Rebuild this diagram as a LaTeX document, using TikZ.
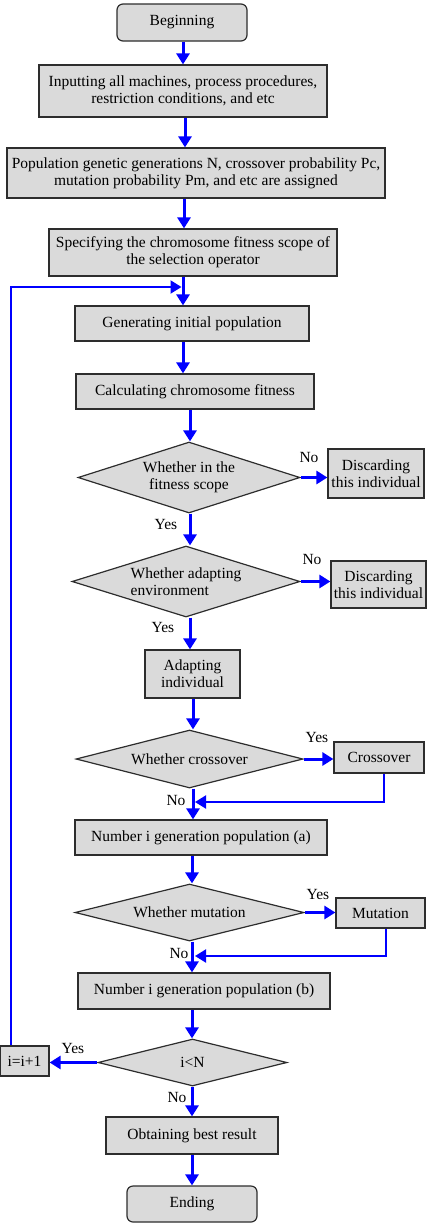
\documentclass[tikz,border=0pt]{standalone}
\usepackage{fontspec}
\setmainfont{Liberation Serif}
\usetikzlibrary{arrows.meta,shapes.geometric}
\definecolor{boxgray}{RGB}{218,218,218}
\definecolor{edgegray}{RGB}{45,45,45}
\definecolor{flowblue}{RGB}{0,0,255}
\newcommand{\flowfont}{\fontsize{15.5pt}{17pt}\selectfont}
\tikzset{
  base/.style={draw=edgegray, line width=1.2pt, fill=boxgray, inner sep=0pt, align=center, font=\flowfont},
  proc/.style={base, rectangle},
  term/.style={base, rectangle, rounded corners=6pt},
  decision/.style={base, diamond},
  arr/.style={draw=flowblue, line width=3pt, -{Triangle[length=11pt,width=13pt]}},
  thinarr/.style={draw=flowblue, line width=2pt, -{Triangle[length=11pt,width=13pt]}},
  lbl/.style={font=\flowfont, inner sep=0pt},
}
\begin{document}
\begin{tikzpicture}[x=1pt,y=-1pt]
\useasboundingbox (0,0) rectangle (431,1232);
% nodes
\node[term, minimum width=130pt, minimum height=37pt] (begin) at (182,22.5) {Beginning};
\node[proc, minimum width=288pt, minimum height=52pt] (input) at (183,91) {Inputting all machines, process procedures,\\restriction conditions, and etc};
\node[proc, minimum width=378pt, minimum height=50pt] (pop) at (196,173) {Population genetic generations N, crossover probability Pc,\\mutation probability Pm, and etc are assigned};
\node[proc, minimum width=288pt, minimum height=47pt] (spec) at (193,252.5) {Specifying the chromosome fitness scope of\\the selection operator};
\node[proc, minimum width=234pt, minimum height=35pt] (gen) at (192,323.5) {Generating initial population};
\node[proc, minimum width=238pt, minimum height=35pt] (calc) at (195,391.5) {Calculating chromosome fitness};
\node[decision, aspect=3.13, minimum width=222pt, minimum height=71pt] (d1) at (189,477.5) {Whether in the\\fitness scope};
\node[proc, minimum width=96pt, minimum height=49pt] (disc1) at (376,473.5) {Discarding\\this individual};
\node[decision, aspect=3.2, minimum width=228pt, minimum height=71pt, align=left] (d2) at (186,581.5) {Whether adapting\\environment};
\node[proc, minimum width=95pt, minimum height=47pt] (disc2) at (378.5,584.5) {Discarding\\this individual};
\node[proc, minimum width=95pt, minimum height=48pt] (adapt) at (192.5,674) {Adapting\\individual};
\node[decision, aspect=3.9, minimum width=227pt, minimum height=58pt] (d3) at (189.5,759) {Whether crossover};
\node[proc, minimum width=90pt, minimum height=31pt] (cross) at (379,757.5) {Crossover};
\node[proc, minimum width=252pt, minimum height=35pt] (numa) at (201,837.5) {Number i generation population (a)};
\node[decision, aspect=4, minimum width=229pt, minimum height=57pt] (d4) at (189.5,912.5) {Whether mutation};
\node[proc, minimum width=89pt, minimum height=30pt] (mut) at (380.5,913) {Mutation};
\node[proc, minimum width=252pt, minimum height=36pt] (numb) at (204,991) {Number i generation population (b)};
\node[decision, aspect=4, minimum width=189pt, minimum height=47pt] (d5) at (192.5,1062.5) {i<N};
\node[proc, minimum width=49pt, minimum height=30pt] (inc) at (24.5,1061) {i=i+1};
\node[proc, minimum width=172pt, minimum height=37pt] (obt) at (192,1135.5) {Obtaining best result};
\node[term, minimum width=130pt, minimum height=36pt] (end) at (192,1204) {Ending};
% axis coordinates
\coordinate (axA) at (183,0);
\coordinate (axA2) at (185,0);
\coordinate (axA3) at (184,0);
\coordinate (axB) at (190,0);
\coordinate (axC) at (193,0);
\coordinate (axD) at (192,0);
\coordinate (loopx) at (11,0);
\coordinate (jloop) at (181.5,287);
\coordinate (jcross) at (195,802);
\coordinate (jmut) at (195,956);
% main flow
\draw[arr] (begin.south -| axA) -- (input.north -| axA);
\draw[arr] (input.south -| axA2) -- (pop.north -| axA2);
\draw[arr] (pop.south -| axA3) -- (spec.north -| axA3);
\draw[arr] (spec.south -| axA) -- (gen.north -| axA);
\draw[arr] (gen.south -| axA) -- (calc.north -| axA);
\draw[arr] (calc.south -| axB) -- (d1.north -| axB);
\draw[arr] (d1.south -| axB) -- (d2.north -| axB);
\draw[arr] (d2.south -| axB) -- (adapt.north -| axB);
\draw[arr] (adapt.south -| axC) -- (d3.north -| axC);
\draw[arr] (d3.south -| axC) -- (numa.north -| axC);
\draw[arr] (numa.south -| axD) -- (d4.north -| axD);
\draw[arr] (d4.south -| axD) -- (numb.north -| axD);
\draw[arr] (numb.south -| axD) -- (d5.north -| axD);
\draw[arr] (d5.south -| axD) -- (obt.north -| axD);
\draw[arr] (obt.south -| axD) -- (end.north -| axD);
% side branches
\draw[arr] (d1.east) -- (d1.east -| disc1.west);
\draw[arr] (d2.east) -- (d2.east -| disc2.west);
\draw[arr] (d3.east) -- (d3.east -| cross.west);
\draw[arr] (d4.east) -- (d4.east -| mut.west);
\draw[arr] (d5.west) -- (d5.west -| inc.east);
% returns
\draw[thinarr] ([xshift=5pt]cross.south) |- (jcross);
\draw[thinarr] ([xshift=5.5pt]mut.south) |- (jmut);
\draw[thinarr] (inc.north -| loopx) |- (jloop);
% labels
\node[lbl] (l1) at (309,457) {No};
\node[lbl] (l2) at (166,524) {Yes};
\node[lbl] (l3) at (312,559) {No};
\node[lbl] (l4) at (163,627) {Yes};
\node[lbl] (l5) at (317,737) {Yes};
\node[lbl] (l6) at (176,800) {No};
\node[lbl] (l7) at (318,894) {Yes};
\node[lbl] (l8) at (179,953) {No};
\node[lbl] (l9) at (73,1048) {Yes};
\node[lbl] (l10) at (177,1097) {No};
\end{tikzpicture}
\end{document}
